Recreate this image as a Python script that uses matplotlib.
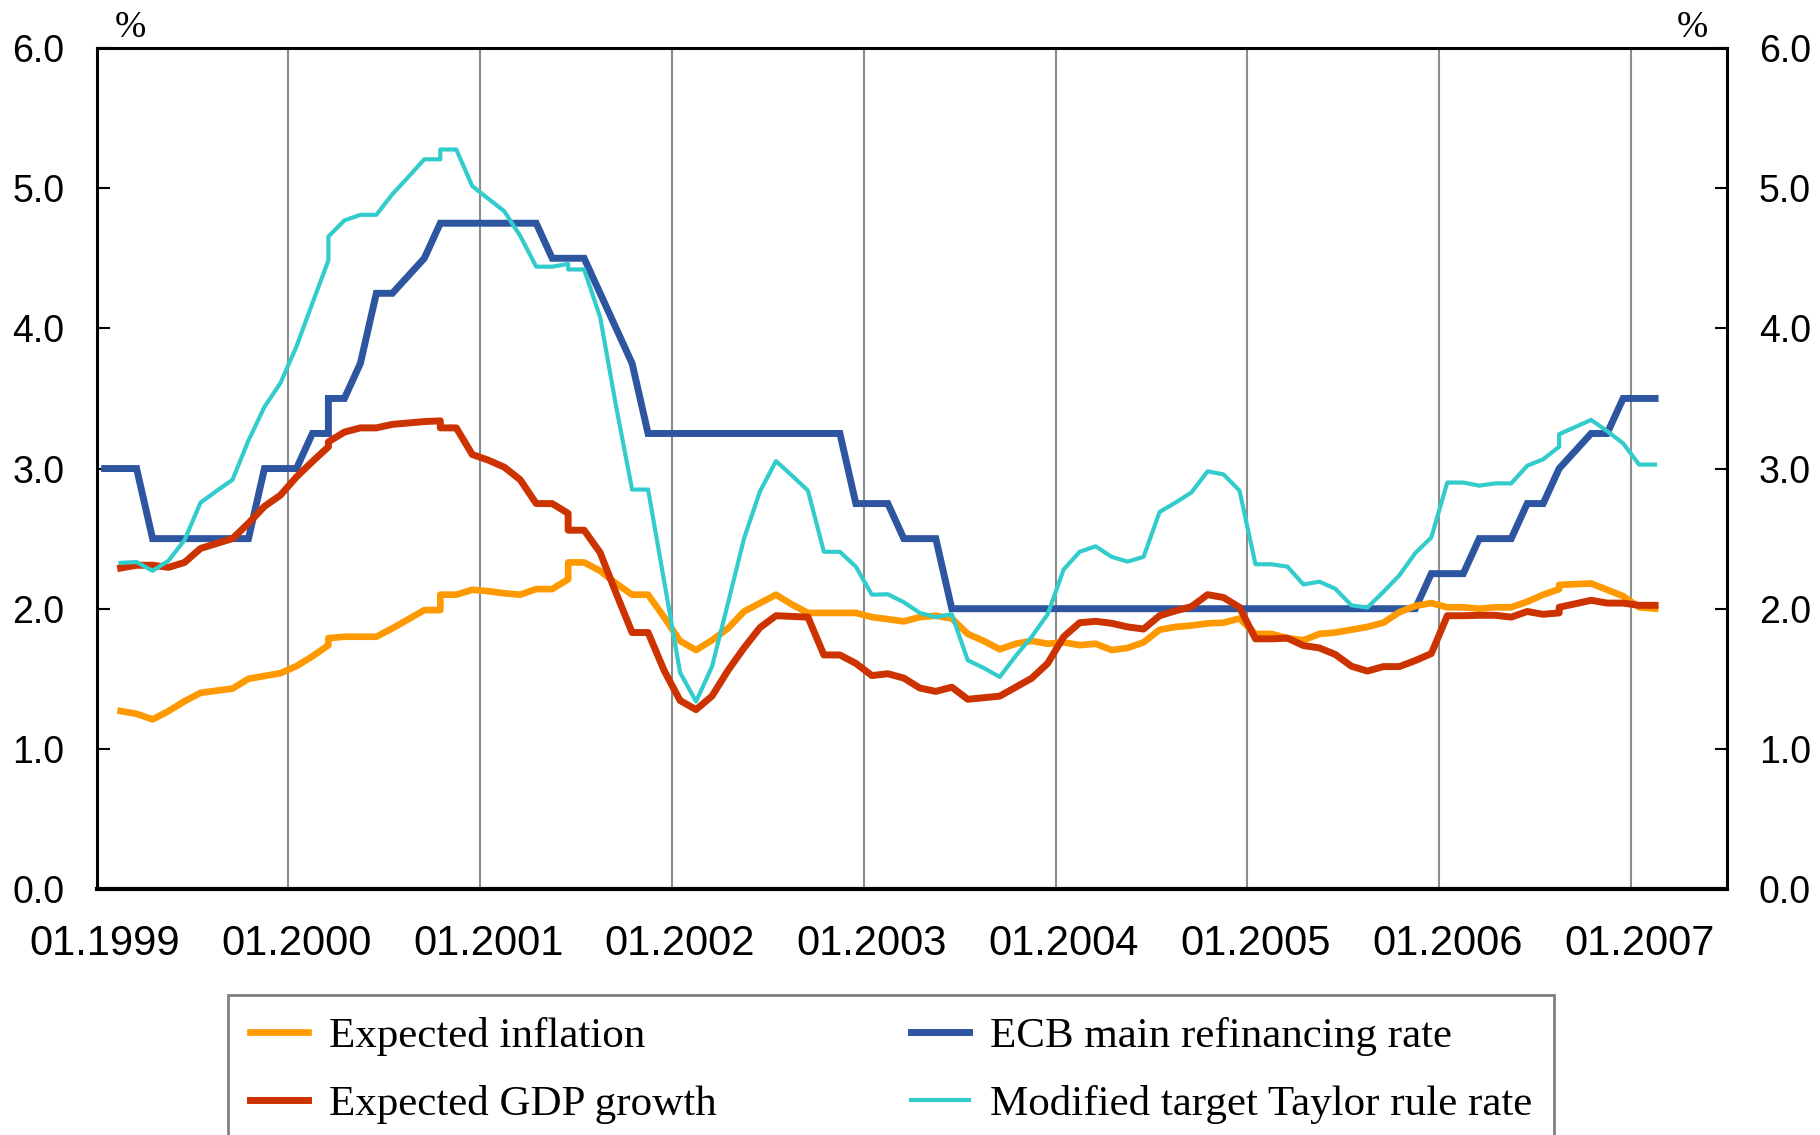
import matplotlib
matplotlib.use("Agg")
import matplotlib.pyplot as plt
from matplotlib.ticker import FixedLocator, FormatStrFormatter

# monthly values from 01.1999; a tuple marks a month with two values (series break)
ecb_rate = [
    3.0, 3.0, 3.0, 2.5, 2.5, 2.5, 2.5, 2.5, 2.5, 2.5, 3.0, 3.0,
    3.0, 3.25, (3.25, 3.5), 3.5, 3.75, 4.25, 4.25, 4.375, 4.5, 4.75, 4.75, 4.75,
    4.75, 4.75, 4.75, 4.75, 4.5, 4.5, 4.5, 4.25, 4.0, 3.75, 3.25, 3.25,
    3.25, 3.25, 3.25, 3.25, 3.25, 3.25, 3.25, 3.25, 3.25, 3.25, 3.25, 2.75,
    2.75, 2.75, 2.5, 2.5, 2.5, 2.0, 2.0, 2.0, 2.0, 2.0, 2.0, 2.0,
    2.0, 2.0, 2.0, 2.0, 2.0, 2.0, 2.0, 2.0, 2.0, 2.0, 2.0, 2.0,
    2.0, 2.0, 2.0, 2.0, 2.0, 2.0, 2.0, 2.0, 2.0, 2.0, 2.0, 2.25,
    2.25, 2.25, 2.5, 2.5, 2.5, 2.75, 2.75, 3.0, 3.125, 3.25, 3.25, 3.5,
    3.5, 3.5,
]

expected_inflation = [
    None, 1.27, 1.25, 1.21, 1.27, 1.34, 1.40, 1.415, 1.43, 1.50, 1.52, 1.54,
    1.59, 1.66, (1.74, 1.79), 1.80, 1.80, 1.80, 1.86, 1.925, 1.99, (1.99, 2.10), 2.10, 2.135,
    2.125, 2.11, 2.10, 2.14, 2.14, (2.21, 2.33), 2.33, 2.27, 2.18, 2.10, 2.10, 1.94,
    1.77, 1.705, 1.775, 1.86, 1.98, 2.04, 2.10, 2.03, 1.97, 1.97, 1.97, 1.97,
    1.94, 1.925, 1.91, 1.94, 1.95, 1.93, 1.82, 1.77, 1.71, 1.75, 1.77, 1.75,
    1.76, 1.74, 1.75, 1.705, 1.72, 1.76, 1.85, 1.87, 1.88, 1.895, 1.90, 1.93,
    1.82, 1.82, 1.79, 1.775, 1.82, 1.83, 1.85, 1.87, 1.90, 1.975, 2.02, 2.04,
    2.01, 2.01, 2.00, 2.01, 2.01, 2.05, 2.10, (2.14, 2.17), 2.175, 2.18, 2.135, 2.09,
    2.01, 2.00,
]

expected_gdp = [
    None, 2.29, 2.31, 2.31, 2.295, 2.33, 2.43, 2.465, 2.50, 2.61, 2.73, 2.81,
    2.94, 3.05, (3.155, 3.19), 3.26, 3.29, 3.29, 3.315, 3.325, 3.335, (3.34, 3.29), 3.29, 3.10,
    3.06, 3.01, 2.92, 2.75, 2.75, (2.68, 2.56), 2.56, 2.40, 2.11, 1.83, 1.83, 1.56,
    1.345, 1.28, 1.377, 1.56, 1.72, 1.865, 1.95, 1.945, 1.94, 1.67, 1.67, 1.61,
    1.523, 1.536, 1.505, 1.434, 1.41, 1.44, 1.354, 1.365, 1.376, 1.44, 1.504, 1.61,
    1.80, 1.90, 1.91, 1.896, 1.87, 1.855, 1.95, 1.985, 2.015, 2.10, 2.08, 2.01,
    1.785, 1.785, 1.79, 1.737, 1.72, 1.673, 1.59, 1.555, 1.587, 1.587, 1.63, 1.68,
    1.95, 1.95, 1.953, 1.953, 1.94, 1.98, 1.96, (1.97, 2.01), 2.035, 2.06, 2.04, 2.04,
    2.024, 2.024,
]

taylor_rate = [
    None, 2.327, 2.333, 2.27, 2.343, 2.49, 2.757, 2.84, 2.92, 3.20, 3.44, 3.61,
    3.87, 4.18, (4.485, 4.655), 4.77, 4.81, 4.81, 4.957, 5.08, 5.206, (5.206, 5.276), 5.276, 5.015,
    4.925, 4.836, 4.66, 4.44, 4.44, (4.46, 4.42), 4.42, 4.08, 3.443, 2.85, 2.85, 2.2,
    1.545, 1.338, 1.587, 2.04, 2.50, 2.837, 3.053, 2.95, 2.843, 2.406, 2.406, 2.30,
    2.10, 2.103, 2.046, 1.97, 1.94, 1.96, 1.632, 1.577, 1.513, 1.663, 1.80, 1.96,
    2.28, 2.406, 2.445, 2.37, 2.336, 2.37, 2.69, 2.757, 2.83, 2.98, 2.958, 2.843,
    2.317, 2.317, 2.30, 2.173, 2.193, 2.142, 2.024, 2.008, 2.12, 2.238, 2.397, 2.508,
    2.90, 2.90, 2.878, 2.894, 2.894, 3.02, 3.066, (3.156, 3.245), 3.296, 3.347, 3.267, 3.18,
    3.028, 3.028,
]

year_labels = ["01.1999", "01.2000", "01.2001", "01.2002", "01.2003",
               "01.2004", "01.2005", "01.2006", "01.2007"]


def expand(values):
    """Turn monthly list into x (mid-month) / y arrays."""
    xs, ys = [], []
    for i, v in enumerate(values):
        if v is None:
            continue
        for val in (v if isinstance(v, tuple) else (v,)):
            xs.append(i + 0.5)
            ys.append(val)
    return xs, ys


SANS = "Liberation Sans"
SERIF = "Liberation Serif"

fig = plt.figure(figsize=(18.2, 11.35), dpi=100)
ax = fig.add_axes([0.0531, 0.2167, 0.8958, 0.741])

h_blue, = ax.plot(*expand(ecb_rate), color="#2E56A0", lw=5.0,
                  solid_joinstyle="miter", label="ECB main refinancing rate")
h_orange, = ax.plot(*expand(expected_inflation), color="#FF9900", lw=4.8,
                    label="Expected inflation")
h_red, = ax.plot(*expand(expected_gdp), color="#CC3300", lw=5.0,
                 label="Expected GDP growth")
h_cyan, = ax.plot(*expand(taylor_rate), color="#33CCCC", lw=3.0,
                  label="Modified target Taylor rule rate")

ax.set_xlim(0, 102)
ax.set_ylim(0, 6)

# year boundaries as grid, labels under the first month of each year
ax.xaxis.set_major_locator(FixedLocator([12 * k for k in range(9)]))
ax.xaxis.set_major_formatter(plt.NullFormatter())
ax.xaxis.set_minor_locator(FixedLocator([12 * k + 0.5 for k in range(9)]))
ax.set_xticklabels(year_labels, minor=True)
ax.tick_params(axis="x", which="both", length=0, pad=25, labelsize=30)
for lab in ax.get_xticklabels(minor=True):
    lab.set_fontfamily(SANS)
ax.grid(axis="x", which="major", color="#8c8c8c", lw=1.5)
ax.set_axisbelow(True)

ax.set_yticks(range(7))
ax.yaxis.set_major_formatter(FormatStrFormatter("%.1f"))
ax.tick_params(axis="y", direction="in", length=9, width=1.5,
               left=True, right=True, labelleft=True, labelright=True,
               labelsize=27, pad=23)
for lab in ax.get_yticklabels():
    lab.set_fontfamily(SANS)

for side in ["left", "right", "top"]:
    ax.spines[side].set_linewidth(2.2)
    ax.spines[side].set_color("black")
ax.spines["bottom"].set_linewidth(3.0)

fig.text(115 / 1820, 1 - 37 / 1135, "%", fontsize=27, family=SERIF,
         ha="left", va="baseline")
fig.text(1677 / 1820, 1 - 37 / 1135, "%", fontsize=27, family=SERIF,
         ha="left", va="baseline")

leg = fig.legend([h_orange, h_red, h_blue, h_cyan],
                 [h.get_label() for h in (h_orange, h_red, h_blue, h_cyan)],
                 ncol=2, loc="upper left",
                 bbox_to_anchor=(228 / 1820, 1 - 995 / 1135),
                 bbox_transform=fig.transFigure, borderaxespad=0,
                 prop={"family": SERIF, "size": 31},
                 frameon=True, fancybox=False, edgecolor="#808080",
                 handlelength=1.35, handletextpad=0.5, columnspacing=4.5,
                 borderpad=0.5, labelspacing=0.67)
leg.get_frame().set_linewidth(2)
leg.get_frame().set_alpha(None)

fig.savefig("out.png", dpi=100)
